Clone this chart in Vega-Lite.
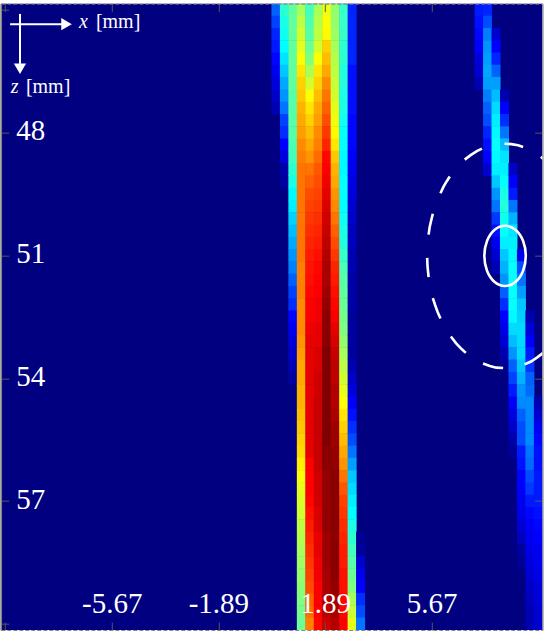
{"$schema":"https://vega.github.io/schema/vega-lite/v6.json","width":541.8,"height":626.4,"autosize":{"type":"none"},"padding":{"left":0.8,"top":3.67,"right":1.4,"bottom":0.9},"background":"white","view":{"fill":"#000080","stroke":null},
"datasets":{"cells":[
{"x":0.15,"z":45,"v":0.22},{"x":0.15,"z":45.3,"v":0.19},{"x":0.15,"z":45.6,"v":0.16},{"x":0.15,"z":45.9,"v":0.15},{"x":0.15,"z":46.2,"v":0.13},{"x":0.15,"z":46.5,"v":0.11},{"x":0.15,"z":46.8,"v":0.09},{"x":0.15,"z":47.1,"v":0.07},{"x":0.15,"z":47.4,"v":0.05},
{"x":0.45,"z":45,"v":0.42},{"x":0.45,"z":45.3,"v":0.4},{"x":0.45,"z":45.6,"v":0.39},{"x":0.45,"z":45.9,"v":0.375},{"x":0.45,"z":46.2,"v":0.35},{"x":0.45,"z":46.5,"v":0.32},{"x":0.45,"z":46.8,"v":0.29},{"x":0.45,"z":47.1,"v":0.27},{"x":0.45,"z":47.4,"v":0.24},{"x":0.45,"z":47.7,"v":0.19},{"x":0.45,"z":48,"v":0.17},{"x":0.45,"z":48.3,"v":0.125},{"x":0.45,"z":48.6,"v":0.09},{"x":0.45,"z":48.9,"v":0.04},{"x":0.45,"z":49.2,"v":0.03},
{"x":0.75,"z":45,"v":0.47},{"x":0.75,"z":45.3,"v":0.47},{"x":0.75,"z":45.6,"v":0.47},{"x":0.75,"z":45.9,"v":0.47},{"x":0.75,"z":46.2,"v":0.47},{"x":0.75,"z":46.5,"v":0.47},{"x":0.75,"z":46.8,"v":0.47},{"x":0.75,"z":47.1,"v":0.46},{"x":0.75,"z":47.4,"v":0.46},{"x":0.75,"z":47.7,"v":0.46},{"x":0.75,"z":48,"v":0.46},{"x":0.75,"z":48.3,"v":0.45},{"x":0.75,"z":48.6,"v":0.44},{"x":0.75,"z":48.9,"v":0.42},{"x":0.75,"z":49.2,"v":0.4},{"x":0.75,"z":49.5,"v":0.37},{"x":0.75,"z":49.8,"v":0.36},{"x":0.75,"z":50.1,"v":0.33},{"x":0.75,"z":50.4,"v":0.31},{"x":0.75,"z":50.7,"v":0.29},{"x":0.75,"z":51,"v":0.27},{"x":0.75,"z":51.3,"v":0.25},{"x":0.75,"z":51.6,"v":0.22},{"x":0.75,"z":51.9,"v":0.19},{"x":0.75,"z":52.2,"v":0.17},{"x":0.75,"z":52.5,"v":0.13},{"x":0.75,"z":52.8,"v":0.11},{"x":0.75,"z":53.1,"v":0.09},{"x":0.75,"z":53.4,"v":0.07},{"x":0.75,"z":53.7,"v":0.05},{"x":0.75,"z":54,"v":0.03},
{"x":1.05,"z":45,"v":0.54},{"x":1.05,"z":45.3,"v":0.56},{"x":1.05,"z":45.6,"v":0.58},{"x":1.05,"z":45.9,"v":0.6},{"x":1.05,"z":46.2,"v":0.62},{"x":1.05,"z":46.5,"v":0.65},{"x":1.05,"z":46.8,"v":0.67},{"x":1.05,"z":47.1,"v":0.68},{"x":1.05,"z":47.4,"v":0.7},{"x":1.05,"z":47.7,"v":0.71},{"x":1.05,"z":48,"v":0.72},{"x":1.05,"z":48.3,"v":0.74},{"x":1.05,"z":48.6,"v":0.75},{"x":1.05,"z":48.9,"v":0.76},{"x":1.05,"z":49.2,"v":0.76},{"x":1.05,"z":49.5,"v":0.76},{"x":1.05,"z":49.8,"v":0.76},{"x":1.05,"z":50.1,"v":0.76},{"x":1.05,"z":50.4,"v":0.76},{"x":1.05,"z":50.7,"v":0.76},{"x":1.05,"z":51,"v":0.76},{"x":1.05,"z":51.3,"v":0.75},{"x":1.05,"z":51.6,"v":0.75},{"x":1.05,"z":51.9,"v":0.75},{"x":1.05,"z":52.2,"v":0.74},{"x":1.05,"z":52.5,"v":0.74},{"x":1.05,"z":52.8,"v":0.74},{"x":1.05,"z":53.1,"v":0.73},{"x":1.05,"z":53.4,"v":0.72},{"x":1.05,"z":53.7,"v":0.71},{"x":1.05,"z":54,"v":0.71},{"x":1.05,"z":54.3,"v":0.7},{"x":1.05,"z":54.6,"v":0.7},{"x":1.05,"z":54.9,"v":0.69},{"x":1.05,"z":55.2,"v":0.68},{"x":1.05,"z":55.5,"v":0.67},{"x":1.05,"z":55.8,"v":0.66},{"x":1.05,"z":56.1,"v":0.64},{"x":1.05,"z":56.4,"v":0.62},{"x":1.05,"z":56.7,"v":0.6},{"x":1.05,"z":57,"v":0.59},{"x":1.05,"z":57.3,"v":0.58},{"x":1.05,"z":57.6,"v":0.56},{"x":1.05,"z":57.9,"v":0.55},{"x":1.05,"z":58.2,"v":0.54},{"x":1.05,"z":58.5,"v":0.53},{"x":1.05,"z":58.8,"v":0.52},{"x":1.05,"z":59.1,"v":0.51},{"x":1.05,"z":59.4,"v":0.5},{"x":1.05,"z":59.7,"v":0.49},{"x":1.05,"z":60,"v":0.48},
{"x":1.35,"z":45,"v":0.44},{"x":1.35,"z":45.3,"v":0.45},{"x":1.35,"z":45.6,"v":0.46},{"x":1.35,"z":45.9,"v":0.48},{"x":1.35,"z":46.2,"v":0.5},{"x":1.35,"z":46.5,"v":0.54},{"x":1.35,"z":46.8,"v":0.58},{"x":1.35,"z":47.1,"v":0.62},{"x":1.35,"z":47.4,"v":0.65},{"x":1.35,"z":47.7,"v":0.67},{"x":1.35,"z":48,"v":0.69},{"x":1.35,"z":48.3,"v":0.71},{"x":1.35,"z":48.6,"v":0.73},{"x":1.35,"z":48.9,"v":0.76},{"x":1.35,"z":49.2,"v":0.78},{"x":1.35,"z":49.5,"v":0.8},{"x":1.35,"z":49.8,"v":0.81},{"x":1.35,"z":50.1,"v":0.82},{"x":1.35,"z":50.4,"v":0.83},{"x":1.35,"z":50.7,"v":0.84},{"x":1.35,"z":51,"v":0.85},{"x":1.35,"z":51.3,"v":0.855},{"x":1.35,"z":51.6,"v":0.86},{"x":1.35,"z":51.9,"v":0.87},{"x":1.35,"z":52.2,"v":0.875},{"x":1.35,"z":52.5,"v":0.88},{"x":1.35,"z":52.8,"v":0.89},{"x":1.35,"z":53.1,"v":0.9},{"x":1.35,"z":53.4,"v":0.9},{"x":1.35,"z":53.7,"v":0.9},{"x":1.35,"z":54,"v":0.9},{"x":1.35,"z":54.3,"v":0.9},{"x":1.35,"z":54.6,"v":0.9},{"x":1.35,"z":54.9,"v":0.9},{"x":1.35,"z":55.2,"v":0.9},{"x":1.35,"z":55.5,"v":0.9},{"x":1.35,"z":55.8,"v":0.9},{"x":1.35,"z":56.1,"v":0.88},{"x":1.35,"z":56.4,"v":0.875},{"x":1.35,"z":56.7,"v":0.875},{"x":1.35,"z":57,"v":0.87},{"x":1.35,"z":57.3,"v":0.86},{"x":1.35,"z":57.6,"v":0.85},{"x":1.35,"z":57.9,"v":0.84},{"x":1.35,"z":58.2,"v":0.83},{"x":1.35,"z":58.5,"v":0.82},{"x":1.35,"z":58.8,"v":0.81},{"x":1.35,"z":59.1,"v":0.8},{"x":1.35,"z":59.4,"v":0.78},{"x":1.35,"z":59.7,"v":0.77},{"x":1.35,"z":60,"v":0.75},
{"x":1.65,"z":45,"v":0.54},{"x":1.65,"z":45.3,"v":0.55},{"x":1.65,"z":45.6,"v":0.56},{"x":1.65,"z":45.9,"v":0.58},{"x":1.65,"z":46.2,"v":0.62},{"x":1.65,"z":46.5,"v":0.65},{"x":1.65,"z":46.8,"v":0.67},{"x":1.65,"z":47.1,"v":0.69},{"x":1.65,"z":47.4,"v":0.71},{"x":1.65,"z":47.7,"v":0.72},{"x":1.65,"z":48,"v":0.74},{"x":1.65,"z":48.3,"v":0.75},{"x":1.65,"z":48.6,"v":0.77},{"x":1.65,"z":48.9,"v":0.79},{"x":1.65,"z":49.2,"v":0.8},{"x":1.65,"z":49.5,"v":0.81},{"x":1.65,"z":49.8,"v":0.82},{"x":1.65,"z":50.1,"v":0.83},{"x":1.65,"z":50.4,"v":0.84},{"x":1.65,"z":50.7,"v":0.85},{"x":1.65,"z":51,"v":0.86},{"x":1.65,"z":51.3,"v":0.87},{"x":1.65,"z":51.6,"v":0.875},{"x":1.65,"z":51.9,"v":0.88},{"x":1.65,"z":52.2,"v":0.89},{"x":1.65,"z":52.5,"v":0.89},{"x":1.65,"z":52.8,"v":0.9},{"x":1.65,"z":53.1,"v":0.9},{"x":1.65,"z":53.4,"v":0.91},{"x":1.65,"z":53.7,"v":0.91},{"x":1.65,"z":54,"v":0.92},{"x":1.65,"z":54.3,"v":0.92},{"x":1.65,"z":54.6,"v":0.93},{"x":1.65,"z":54.9,"v":0.93},{"x":1.65,"z":55.2,"v":0.93},{"x":1.65,"z":55.5,"v":0.93},{"x":1.65,"z":55.8,"v":0.93},{"x":1.65,"z":56.1,"v":0.93},{"x":1.65,"z":56.4,"v":0.92},{"x":1.65,"z":56.7,"v":0.92},{"x":1.65,"z":57,"v":0.92},{"x":1.65,"z":57.3,"v":0.91},{"x":1.65,"z":57.6,"v":0.91},{"x":1.65,"z":57.9,"v":0.9},{"x":1.65,"z":58.2,"v":0.9},{"x":1.65,"z":58.5,"v":0.89},{"x":1.65,"z":58.8,"v":0.89},{"x":1.65,"z":59.1,"v":0.88},{"x":1.65,"z":59.4,"v":0.88},{"x":1.65,"z":59.7,"v":0.875},{"x":1.65,"z":60,"v":0.87},
{"x":1.95,"z":45,"v":0.61},{"x":1.95,"z":45.3,"v":0.62},{"x":1.95,"z":45.6,"v":0.63},{"x":1.95,"z":45.9,"v":0.67},{"x":1.95,"z":46.2,"v":0.69},{"x":1.95,"z":46.5,"v":0.71},{"x":1.95,"z":46.8,"v":0.74},{"x":1.95,"z":47.1,"v":0.76},{"x":1.95,"z":47.4,"v":0.78},{"x":1.95,"z":47.7,"v":0.8},{"x":1.95,"z":48,"v":0.82},{"x":1.95,"z":48.3,"v":0.84},{"x":1.95,"z":48.6,"v":0.87},{"x":1.95,"z":48.9,"v":0.88},{"x":1.95,"z":49.2,"v":0.89},{"x":1.95,"z":49.5,"v":0.9},{"x":1.95,"z":49.8,"v":0.91},{"x":1.95,"z":50.1,"v":0.92},{"x":1.95,"z":50.4,"v":0.93},{"x":1.95,"z":50.7,"v":0.94},{"x":1.95,"z":51,"v":0.95},{"x":1.95,"z":51.3,"v":0.96},{"x":1.95,"z":51.6,"v":0.96},{"x":1.95,"z":51.9,"v":0.97},{"x":1.95,"z":52.2,"v":0.98},{"x":1.95,"z":52.5,"v":0.99},{"x":1.95,"z":52.8,"v":0.99},{"x":1.95,"z":53.1,"v":0.99},{"x":1.95,"z":53.4,"v":1},{"x":1.95,"z":53.7,"v":1},{"x":1.95,"z":54,"v":1},{"x":1.95,"z":54.3,"v":1},{"x":1.95,"z":54.6,"v":1},{"x":1.95,"z":54.9,"v":1},{"x":1.95,"z":55.2,"v":1},{"x":1.95,"z":55.5,"v":1},{"x":1.95,"z":55.8,"v":0.99},{"x":1.95,"z":56.1,"v":0.99},{"x":1.95,"z":56.4,"v":0.98},{"x":1.95,"z":56.7,"v":0.98},{"x":1.95,"z":57,"v":0.98},{"x":1.95,"z":57.3,"v":0.98},{"x":1.95,"z":57.6,"v":0.98},{"x":1.95,"z":57.9,"v":0.97},{"x":1.95,"z":58.2,"v":0.97},{"x":1.95,"z":58.5,"v":0.97},{"x":1.95,"z":58.8,"v":0.96},{"x":1.95,"z":59.1,"v":0.96},{"x":1.95,"z":59.4,"v":0.95},{"x":1.95,"z":59.7,"v":0.94},{"x":1.95,"z":60,"v":0.93},
{"x":2.25,"z":45,"v":0.52},{"x":2.25,"z":45.3,"v":0.52},{"x":2.25,"z":45.6,"v":0.53},{"x":2.25,"z":45.9,"v":0.54},{"x":2.25,"z":46.2,"v":0.55},{"x":2.25,"z":46.5,"v":0.56},{"x":2.25,"z":46.8,"v":0.57},{"x":2.25,"z":47.1,"v":0.58},{"x":2.25,"z":47.4,"v":0.6},{"x":2.25,"z":47.7,"v":0.61},{"x":2.25,"z":48,"v":0.63},{"x":2.25,"z":48.3,"v":0.65},{"x":2.25,"z":48.6,"v":0.68},{"x":2.25,"z":48.9,"v":0.7},{"x":2.25,"z":49.2,"v":0.71},{"x":2.25,"z":49.5,"v":0.73},{"x":2.25,"z":49.8,"v":0.74},{"x":2.25,"z":50.1,"v":0.76},{"x":2.25,"z":50.4,"v":0.78},{"x":2.25,"z":50.7,"v":0.8},{"x":2.25,"z":51,"v":0.82},{"x":2.25,"z":51.3,"v":0.84},{"x":2.25,"z":51.6,"v":0.85},{"x":2.25,"z":51.9,"v":0.86},{"x":2.25,"z":52.2,"v":0.87},{"x":2.25,"z":52.5,"v":0.88},{"x":2.25,"z":52.8,"v":0.9},{"x":2.25,"z":53.1,"v":0.91},{"x":2.25,"z":53.4,"v":0.93},{"x":2.25,"z":53.7,"v":0.94},{"x":2.25,"z":54,"v":0.94},{"x":2.25,"z":54.3,"v":0.95},{"x":2.25,"z":54.6,"v":0.95},{"x":2.25,"z":54.9,"v":0.96},{"x":2.25,"z":55.2,"v":0.97},{"x":2.25,"z":55.5,"v":0.97},{"x":2.25,"z":55.8,"v":0.98},{"x":2.25,"z":56.1,"v":0.98},{"x":2.25,"z":56.4,"v":0.99},{"x":2.25,"z":56.7,"v":0.99},{"x":2.25,"z":57,"v":0.99},{"x":2.25,"z":57.3,"v":0.99},{"x":2.25,"z":57.6,"v":0.99},{"x":2.25,"z":57.9,"v":0.99},{"x":2.25,"z":58.2,"v":0.99},{"x":2.25,"z":58.5,"v":0.99},{"x":2.25,"z":58.8,"v":0.99},{"x":2.25,"z":59.1,"v":0.98},{"x":2.25,"z":59.4,"v":0.97},{"x":2.25,"z":59.7,"v":0.96},{"x":2.25,"z":60,"v":0.95},
{"x":2.55,"z":45,"v":0.43},{"x":2.55,"z":45.3,"v":0.43},{"x":2.55,"z":45.6,"v":0.43},{"x":2.55,"z":45.9,"v":0.42},{"x":2.55,"z":46.2,"v":0.42},{"x":2.55,"z":46.5,"v":0.41},{"x":2.55,"z":46.8,"v":0.41},{"x":2.55,"z":47.1,"v":0.4},{"x":2.55,"z":47.4,"v":0.4},{"x":2.55,"z":47.7,"v":0.39},{"x":2.55,"z":48,"v":0.38},{"x":2.55,"z":48.3,"v":0.38},{"x":2.55,"z":48.6,"v":0.37},{"x":2.55,"z":48.9,"v":0.37},{"x":2.55,"z":49.2,"v":0.38},{"x":2.55,"z":49.5,"v":0.38},{"x":2.55,"z":49.8,"v":0.38},{"x":2.55,"z":50.1,"v":0.39},{"x":2.55,"z":50.4,"v":0.4},{"x":2.55,"z":50.7,"v":0.41},{"x":2.55,"z":51,"v":0.43},{"x":2.55,"z":51.3,"v":0.45},{"x":2.55,"z":51.6,"v":0.46},{"x":2.55,"z":51.9,"v":0.47},{"x":2.55,"z":52.2,"v":0.48},{"x":2.55,"z":52.5,"v":0.49},{"x":2.55,"z":52.8,"v":0.5},{"x":2.55,"z":53.1,"v":0.52},{"x":2.55,"z":53.4,"v":0.54},{"x":2.55,"z":53.7,"v":0.56},{"x":2.55,"z":54,"v":0.58},{"x":2.55,"z":54.3,"v":0.6},{"x":2.55,"z":54.6,"v":0.62},{"x":2.55,"z":54.9,"v":0.65},{"x":2.55,"z":55.2,"v":0.67},{"x":2.55,"z":55.5,"v":0.69},{"x":2.55,"z":55.8,"v":0.71},{"x":2.55,"z":56.1,"v":0.73},{"x":2.55,"z":56.4,"v":0.76},{"x":2.55,"z":56.7,"v":0.79},{"x":2.55,"z":57,"v":0.81},{"x":2.55,"z":57.3,"v":0.82},{"x":2.55,"z":57.6,"v":0.83},{"x":2.55,"z":57.9,"v":0.84},{"x":2.55,"z":58.2,"v":0.85},{"x":2.55,"z":58.5,"v":0.85},{"x":2.55,"z":58.8,"v":0.86},{"x":2.55,"z":59.1,"v":0.86},{"x":2.55,"z":59.4,"v":0.87},{"x":2.55,"z":59.7,"v":0.87},{"x":2.55,"z":60,"v":0.875},
{"x":2.85,"z":45,"v":0.16},{"x":2.85,"z":45.3,"v":0.16},{"x":2.85,"z":45.6,"v":0.16},{"x":2.85,"z":45.9,"v":0.16},{"x":2.85,"z":46.2,"v":0.16},{"x":2.85,"z":46.5,"v":0.14},{"x":2.85,"z":46.8,"v":0.14},{"x":2.85,"z":47.1,"v":0.14},{"x":2.85,"z":47.4,"v":0.14},{"x":2.85,"z":47.7,"v":0.13},{"x":2.85,"z":48,"v":0.13},{"x":2.85,"z":48.3,"v":0.13},{"x":2.85,"z":48.6,"v":0.12},{"x":2.85,"z":48.9,"v":0.11},{"x":2.85,"z":49.2,"v":0.1},{"x":2.85,"z":49.5,"v":0.09},{"x":2.85,"z":49.8,"v":0.08},{"x":2.85,"z":50.1,"v":0.07},{"x":2.85,"z":50.4,"v":0.06},{"x":2.85,"z":50.7,"v":0.06},{"x":2.85,"z":51,"v":0.05},{"x":2.85,"z":51.3,"v":0.05},{"x":2.85,"z":51.6,"v":0.04},{"x":2.85,"z":51.9,"v":0.04},{"x":2.85,"z":52.2,"v":0.04},{"x":2.85,"z":52.5,"v":0.03},{"x":2.85,"z":52.8,"v":0.03},{"x":2.85,"z":53.1,"v":0.03},{"x":2.85,"z":53.4,"v":0.03},{"x":2.85,"z":53.7,"v":0.05},{"x":2.85,"z":54,"v":0.07},{"x":2.85,"z":54.3,"v":0.09},{"x":2.85,"z":54.6,"v":0.12},{"x":2.85,"z":54.9,"v":0.14},{"x":2.85,"z":55.2,"v":0.17},{"x":2.85,"z":55.5,"v":0.2},{"x":2.85,"z":55.8,"v":0.24},{"x":2.85,"z":56.1,"v":0.28},{"x":2.85,"z":56.4,"v":0.32},{"x":2.85,"z":56.7,"v":0.34},{"x":2.85,"z":57,"v":0.36},{"x":2.85,"z":57.3,"v":0.375},{"x":2.85,"z":57.6,"v":0.4},{"x":2.85,"z":57.9,"v":0.42},{"x":2.85,"z":58.2,"v":0.44},{"x":2.85,"z":58.5,"v":0.46},{"x":2.85,"z":58.8,"v":0.48},{"x":2.85,"z":59.1,"v":0.5},{"x":2.85,"z":59.4,"v":0.54},{"x":2.85,"z":59.7,"v":0.57},{"x":2.85,"z":60,"v":0.6},
{"x":3.15,"z":57.9,"v":0.02},{"x":3.15,"z":58.2,"v":0.03},{"x":3.15,"z":58.5,"v":0.08},{"x":3.15,"z":58.8,"v":0.11},{"x":3.15,"z":59.1,"v":0.125},{"x":3.15,"z":59.4,"v":0.17},{"x":3.15,"z":59.7,"v":0.2},{"x":3.15,"z":60,"v":0.24},
{"x":7.35,"z":45,"v":0.15},{"x":7.35,"z":45.3,"v":0.14},{"x":7.35,"z":45.6,"v":0.13},{"x":7.35,"z":45.9,"v":0.12},{"x":7.35,"z":46.2,"v":0.09},{"x":7.35,"z":46.5,"v":0.08},{"x":7.35,"z":46.8,"v":0.05},
{"x":7.65,"z":45,"v":0.16},{"x":7.65,"z":45.3,"v":0.2},{"x":7.65,"z":45.6,"v":0.25},{"x":7.65,"z":45.9,"v":0.27},{"x":7.65,"z":46.2,"v":0.28},{"x":7.65,"z":46.5,"v":0.29},{"x":7.65,"z":46.8,"v":0.28},{"x":7.65,"z":47.1,"v":0.25},{"x":7.65,"z":47.4,"v":0.22},{"x":7.65,"z":47.7,"v":0.2},{"x":7.65,"z":48,"v":0.16},{"x":7.65,"z":48.3,"v":0.14},{"x":7.65,"z":48.6,"v":0.125},{"x":7.65,"z":48.9,"v":0.08},
{"x":7.95,"z":45.6,"v":0.08},{"x":7.95,"z":45.9,"v":0.125},{"x":7.95,"z":46.2,"v":0.16},{"x":7.95,"z":46.5,"v":0.22},{"x":7.95,"z":46.8,"v":0.28},{"x":7.95,"z":47.1,"v":0.31},{"x":7.95,"z":47.4,"v":0.34},{"x":7.95,"z":47.7,"v":0.36},{"x":7.95,"z":48,"v":0.37},{"x":7.95,"z":48.3,"v":0.38},{"x":7.95,"z":48.6,"v":0.37},{"x":7.95,"z":48.9,"v":0.36},{"x":7.95,"z":49.2,"v":0.32},{"x":7.95,"z":49.5,"v":0.27},{"x":7.95,"z":49.8,"v":0.24},{"x":7.95,"z":50.1,"v":0.18},{"x":7.95,"z":50.4,"v":0.14},{"x":7.95,"z":50.7,"v":0.11},{"x":7.95,"z":51,"v":0.08},{"x":7.95,"z":51.3,"v":0.05},
{"x":8.25,"z":47.1,"v":0.05},{"x":8.25,"z":47.4,"v":0.125},{"x":8.25,"z":47.7,"v":0.17},{"x":8.25,"z":48,"v":0.24},{"x":8.25,"z":48.3,"v":0.31},{"x":8.25,"z":48.6,"v":0.35},{"x":8.25,"z":48.9,"v":0.36},{"x":8.25,"z":49.2,"v":0.38},{"x":8.25,"z":49.5,"v":0.4},{"x":8.25,"z":49.8,"v":0.41},{"x":8.25,"z":50.1,"v":0.39},{"x":8.25,"z":50.4,"v":0.38},{"x":8.25,"z":50.7,"v":0.36},{"x":8.25,"z":51,"v":0.32},{"x":8.25,"z":51.3,"v":0.3},{"x":8.25,"z":51.6,"v":0.27},{"x":8.25,"z":51.9,"v":0.22},{"x":8.25,"z":52.2,"v":0.17},{"x":8.25,"z":52.5,"v":0.125},{"x":8.25,"z":52.8,"v":0.1},{"x":8.25,"z":53.1,"v":0.08},{"x":8.25,"z":53.4,"v":0.05},{"x":8.25,"z":53.7,"v":0.02},
{"x":8.55,"z":48.9,"v":0.07},{"x":8.55,"z":49.2,"v":0.12},{"x":8.55,"z":49.5,"v":0.15},{"x":8.55,"z":49.8,"v":0.24},{"x":8.55,"z":50.1,"v":0.3},{"x":8.55,"z":50.4,"v":0.35},{"x":8.55,"z":50.7,"v":0.36},{"x":8.55,"z":51,"v":0.37},{"x":8.55,"z":51.3,"v":0.38},{"x":8.55,"z":51.6,"v":0.38},{"x":8.55,"z":51.9,"v":0.38},{"x":8.55,"z":52.2,"v":0.38},{"x":8.55,"z":52.5,"v":0.37},{"x":8.55,"z":52.8,"v":0.34},{"x":8.55,"z":53.1,"v":0.31},{"x":8.55,"z":53.4,"v":0.27},{"x":8.55,"z":53.7,"v":0.22},{"x":8.55,"z":54,"v":0.19},{"x":8.55,"z":54.3,"v":0.15},{"x":8.55,"z":54.6,"v":0.12},{"x":8.55,"z":54.9,"v":0.09},{"x":8.55,"z":55.2,"v":0.07},{"x":8.55,"z":55.5,"v":0.04},{"x":8.55,"z":55.8,"v":0.02},
{"x":8.85,"z":51,"v":0.11},{"x":8.85,"z":51.3,"v":0.2},{"x":8.85,"z":51.6,"v":0.24},{"x":8.85,"z":51.9,"v":0.28},{"x":8.85,"z":52.2,"v":0.32},{"x":8.85,"z":52.5,"v":0.33},{"x":8.85,"z":52.8,"v":0.34},{"x":8.85,"z":53.1,"v":0.34},{"x":8.85,"z":53.4,"v":0.34},{"x":8.85,"z":53.7,"v":0.32},{"x":8.85,"z":54,"v":0.3},{"x":8.85,"z":54.3,"v":0.27},{"x":8.85,"z":54.6,"v":0.26},{"x":8.85,"z":54.9,"v":0.22},{"x":8.85,"z":55.2,"v":0.2},{"x":8.85,"z":55.5,"v":0.2},{"x":8.85,"z":55.8,"v":0.15},{"x":8.85,"z":56.1,"v":0.14},{"x":8.85,"z":56.4,"v":0.125},{"x":8.85,"z":56.7,"v":0.12},{"x":8.85,"z":57,"v":0.11},{"x":8.85,"z":57.3,"v":0.1},{"x":8.85,"z":57.6,"v":0.08},{"x":8.85,"z":57.9,"v":0.06},{"x":8.85,"z":58.2,"v":0.03},{"x":8.85,"z":58.5,"v":0.02},
{"x":9.15,"z":52.5,"v":0.05},{"x":9.15,"z":52.8,"v":0.09},{"x":9.15,"z":53.1,"v":0.12},{"x":9.15,"z":53.4,"v":0.15},{"x":9.15,"z":53.7,"v":0.18},{"x":9.15,"z":54,"v":0.22},{"x":9.15,"z":54.3,"v":0.23},{"x":9.15,"z":54.6,"v":0.26},{"x":9.15,"z":54.9,"v":0.26},{"x":9.15,"z":55.2,"v":0.26},{"x":9.15,"z":55.5,"v":0.26},{"x":9.15,"z":55.8,"v":0.24},{"x":9.15,"z":56.1,"v":0.23},{"x":9.15,"z":56.4,"v":0.2},{"x":9.15,"z":56.7,"v":0.18},{"x":9.15,"z":57,"v":0.15},{"x":9.15,"z":57.3,"v":0.13},{"x":9.15,"z":57.6,"v":0.12},{"x":9.15,"z":57.9,"v":0.11},{"x":9.15,"z":58.2,"v":0.1},{"x":9.15,"z":58.5,"v":0.09},{"x":9.15,"z":58.8,"v":0.08},{"x":9.15,"z":59.1,"v":0.07},{"x":9.15,"z":59.4,"v":0.06},{"x":9.15,"z":59.7,"v":0.05},{"x":9.15,"z":60,"v":0.05},
{"x":9.45,"z":54.6,"v":0.05},{"x":9.45,"z":54.9,"v":0.08},{"x":9.45,"z":55.2,"v":0.11},{"x":9.45,"z":55.5,"v":0.13},{"x":9.45,"z":55.8,"v":0.14},{"x":9.45,"z":56.1,"v":0.14},{"x":9.45,"z":56.4,"v":0.15},{"x":9.45,"z":56.7,"v":0.15},{"x":9.45,"z":57,"v":0.15},{"x":9.45,"z":57.3,"v":0.14},{"x":9.45,"z":57.6,"v":0.13},{"x":9.45,"z":57.9,"v":0.125},{"x":9.45,"z":58.2,"v":0.11},{"x":9.45,"z":58.5,"v":0.11},{"x":9.45,"z":58.8,"v":0.1},{"x":9.45,"z":59.1,"v":0.09},{"x":9.45,"z":59.4,"v":0.09},{"x":9.45,"z":59.7,"v":0.08},{"x":9.45,"z":60,"v":0.08}
],
"circle":[{"o":1,"x":9.005,"z":51.01},{"o":2,"x":8.907,"z":51.378},{"o":3,"x":8.638,"z":51.647},{"o":4,"x":8.27,"z":51.745},{"o":5,"x":7.902,"z":51.647},{"o":6,"x":7.633,"z":51.378},{"o":7,"x":7.535,"z":51.01},{"o":8,"x":7.633,"z":50.642},{"o":9,"x":7.902,"z":50.373},{"o":10,"x":8.27,"z":50.275},{"o":11,"x":8.638,"z":50.373},{"o":12,"x":8.907,"z":50.642}],
"dashes":[
{"d":"A","o":1,"x":8.25,"z":48.27},{"d":"A","o":2,"x":8.49,"z":48.28},{"d":"A","o":3,"x":8.73,"z":48.31},{"d":"A","o":4,"x":8.91,"z":48.35},
{"d":"B","o":1,"x":6.84,"z":48.66},{"d":"B","o":2,"x":7.05,"z":48.55},{"d":"B","o":3,"x":7.27,"z":48.45},{"d":"B","o":4,"x":7.45,"z":48.39},
{"d":"C","o":1,"x":5.98,"z":49.48},{"d":"C","o":2,"x":6.09,"z":49.32},{"d":"C","o":3,"x":6.21,"z":49.18},{"d":"C","o":4,"x":6.31,"z":49.07},
{"d":"D","o":1,"x":5.56,"z":50.49},{"d":"D","o":2,"x":5.6,"z":50.3},{"d":"D","o":3,"x":5.66,"z":50.12},{"d":"D","o":4,"x":5.71,"z":49.98},
{"d":"E","o":1,"x":5.51,"z":51.06},{"d":"E","o":2,"x":5.52,"z":51.25},{"d":"E","o":3,"x":5.54,"z":51.39},{"d":"E","o":4,"x":5.56,"z":51.53},
{"d":"F","o":1,"x":5.71,"z":52.04},{"d":"F","o":2,"x":5.79,"z":52.21},{"d":"F","o":3,"x":5.88,"z":52.38},{"d":"F","o":4,"x":5.98,"z":52.54},
{"d":"G","o":1,"x":6.35,"z":52.98},{"d":"G","o":2,"x":6.53,"z":53.14},{"d":"G","o":3,"x":6.72,"z":53.28},{"d":"G","o":4,"x":6.88,"z":53.38},
{"d":"H","o":1,"x":7.49,"z":53.64},{"d":"H","o":2,"x":7.73,"z":53.7},{"d":"H","o":3,"x":7.96,"z":53.74},{"d":"H","o":4,"x":8.2,"z":53.75},
{"d":"I","o":1,"x":8.96,"z":53.66},{"d":"I","o":2,"x":9.19,"z":53.59},{"d":"I","o":3,"x":9.41,"z":53.49},{"d":"I","o":4,"x":9.62,"z":53.38},
{"d":"J","o":1,"x":9.54,"z":48.59},{"d":"J","o":2,"x":9.7,"z":48.69}
],
"arrows":[{"a":"x","o":1,"x":-9.27,"z":45.35},{"a":"x","o":2,"x":-7.43,"z":45.35},{"a":"z","o":1,"x":-8.92,"z":45.1},{"a":"z","o":2,"x":-8.92,"z":46.32}]
},
"layer":[
{"data":{"name":"cells"},"mark":{"type":"rect","width":9,"height":12.8,"clip":true},
"encoding":{"x":{"field":"x","type":"quantitative","scale":{"domain":[-9.6,9.6],"nice":false,"zero":false},
"axis":{"orient":"bottom","title":null,"values":[-9.45,-5.67,-1.89,1.89,5.67],"format":".2f","labelExpr":"datum.value<-9?'':replace(datum.label,'−','-')","grid":false,"tickSize":-8,"tickColor":"#555","domainColor":"#808080","domainDash":[4,2],"labelColor":"white","labelFont":"Liberation Serif","labelFontSize":29,"labelPadding":-10,"labelBaseline":"alphabetic","labelFlush":false,"labelOverlap":false,"labelBound":false,"zindex":1}},
"y":{"field":"z","type":"quantitative","scale":{"domain":[44.85,60.15],"reverse":true,"nice":false,"zero":false},
"axis":{"orient":"left","title":null,"values":[45,48,51,54,57,60],"labelExpr":"(datum.value==45||datum.value==60)?'':datum.label","grid":false,"tickSize":-8,"tickColor":"#555","domainColor":"#808080","domainWidth":1.5,"labelColor":"white","labelFont":"Liberation Serif","labelFontSize":29,"labelAlign":"left","labelPadding":-7,"labelOffset":-2,"labelBaseline":"middle","labelFlush":false,"labelOverlap":false,"labelBound":false,"zindex":1}},
"color":{"field":"v","type":"quantitative","legend":null,"scale":{"domain":[0,0.125,0.375,0.625,0.875,1],"range":["#000080","#0000ff","#00ffff","#ffff00","#ff0000","#800000"],"interpolate":"rgb","clamp":true}}}},
{"data":{"name":"arrows"},"mark":{"type":"line","color":"white","strokeWidth":2},
"encoding":{"x":{"field":"x","type":"quantitative","scale":{"domain":[-9.6,9.6],"nice":false,"zero":false},
"axis":{"orient":"top","title":null,"values":[-9.45,-5.67,-1.89,1.89,5.67],"labels":false,"grid":false,"tickSize":-8,"tickColor":"#555","domainColor":"#808080","domainDash":[4,2],"zindex":1}},
"y":{"field":"z","type":"quantitative","scale":{"domain":[44.85,60.15],"reverse":true,"nice":false,"zero":false},
"axis":{"orient":"right","title":null,"values":[48,51,54,57],"labels":false,"grid":false,"tickSize":-8,"tickColor":"#555","domainColor":"#b0b0b0","domainWidth":1.5,"zindex":1}},
"detail":{"field":"a"},"order":{"field":"o"}}},
{"data":{"name":"circle"},"mark":{"type":"line","color":"white","strokeWidth":2.6,"interpolate":"cardinal-closed","clip":true},
"encoding":{"x":{"field":"x","type":"quantitative","axis":null},"y":{"field":"z","type":"quantitative","axis":null},"order":{"field":"o"}}},
{"data":{"name":"dashes"},"mark":{"type":"line","color":"white","strokeWidth":2.6,"clip":true},
"encoding":{"x":{"field":"x","type":"quantitative","axis":null},"y":{"field":"z","type":"quantitative","axis":null},"detail":{"field":"d"},"order":{"field":"o"}}},
{"data":{"values":[{"x":-7.27,"z":45.35}]},"mark":{"type":"point","shape":"triangle-right","filled":true,"color":"white","opacity":1,"size":150},
"encoding":{"x":{"field":"x","type":"quantitative","axis":null},"y":{"field":"z","type":"quantitative","axis":null}}},
{"data":{"values":[{"x":-8.92,"z":46.44}]},"mark":{"type":"point","shape":"triangle-down","filled":true,"color":"white","opacity":1,"size":150},
"encoding":{"x":{"field":"x","type":"quantitative","axis":null},"y":{"field":"z","type":"quantitative","axis":null}}},
{"data":{"values":[{"x":-6.83,"z":45.44,"t":"x"},{"x":-9.25,"z":47.02,"t":"z"}]},"mark":{"type":"text","font":"Liberation Serif","fontStyle":"italic","fontSize":20,"color":"white","align":"left","baseline":"alphabetic"},
"encoding":{"x":{"field":"x","type":"quantitative","axis":null},"y":{"field":"z","type":"quantitative","axis":null},"text":{"field":"t"}}},
{"data":{"values":[{"x":-6.23,"z":45.44,"t":"[mm]"},{"x":-8.71,"z":47.02,"t":"[mm]"}]},"mark":{"type":"text","font":"Liberation Serif","fontSize":20,"color":"white","align":"left","baseline":"alphabetic"},
"encoding":{"x":{"field":"x","type":"quantitative","axis":null},"y":{"field":"z","type":"quantitative","axis":null},"text":{"field":"t"}}}
],
"resolve":{"axis":{"x":"independent","y":"independent"}}}
